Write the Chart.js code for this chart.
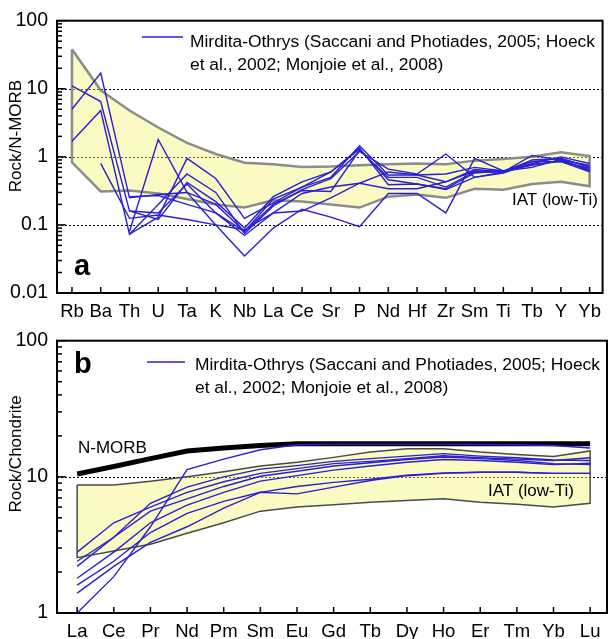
<!DOCTYPE html>
<html>
<head>
<meta charset="utf-8">
<script src="https://cdn.jsdelivr.net/npm/chart.js@4.4.0/dist/chart.umd.min.js"></script>
<style>
  html, body { margin: 0; padding: 0; background: #fff; }
  #wrap { position: relative; width: 609px; height: 639px; }
  .panel { position: absolute; left: 0; width: 609px; }
</style>
</head>
<body>
<div id="wrap">
  <div class="panel" style="top:0;height:320px"><canvas id="chartA" width="609" height="320"></canvas></div>
  <div class="panel" style="top:320px;height:319px"><canvas id="chartB" width="609" height="319"></canvas></div>
</div>
<script>
const FONT = '"Liberation Sans", Arial, Helvetica, sans-serif';
const BLUE = '#2a1fd2';

// ---- panel a: Rock / N-MORB ----
const elementsA = ['Rb', 'Ba', 'Th', 'U', 'Ta', 'K', 'Nb', 'La', 'Ce', 'Sr', 'P', 'Nd', 'Hf', 'Zr', 'Sm', 'Ti', 'Tb', 'Y', 'Yb'];
const yTicksA = [0.01, 0.1, 1, 10, 100];
const iatUpperA = [38, 9.5, 4.8, 2.7, 1.6, 1.1, 0.82, 0.78, 0.71, 0.72, 0.75, 0.78, 0.8, 0.78, 0.88, 0.93, 1.0, 1.17, 1.03];
const iatLowerA = [0.83, 0.31, 0.32, 0.29, 0.24, 0.2, 0.18, 0.23, 0.22, 0.2, 0.18, 0.26, 0.28, 0.25, 0.34, 0.33, 0.4, 0.43, 0.37];
const samplesA = [
    [5, 17, 0.25, 0.28, 0.3, 0.2, 0.08, 0.24, 0.36, 0.5, 1.45, 0.54, 0.54, 0.43, 0.62, 0.62, 0.85, 0.95, 0.7],
    [11, 6.5, 0.16, 0.12, 0.42, 0.22, 0.09, 0.26, 0.43, 0.6, 1.3, 0.46, 0.4, 0.33, 0.5, 0.6, 1.05, 0.9, 0.75],
    [1.7, 4.8, 0.073, 0.2, 0.56, 0.3, 0.075, 0.19, 0.33, 0.48, 1.2, 0.66, 0.56, 1.1, 0.5, 0.58, 0.8, 1.0, 0.8],
    [null, 0.8, 0.125, 0.14, 0.12, 0.1, 0.085, 0.15, 0.29, 0.36, 0.41, 0.6, 0.54, 0.56, 0.7, 0.62, 0.75, 0.88, 0.65],
    [null, null, 0.08, 1.8, 0.3, 0.1, 0.035, 0.09, 0.17, 0.13, 0.094, 0.29, 0.29, 0.15, 0.95, 0.62, 0.78, 0.85, 0.6],
    [null, null, 0.073, 0.13, 0.95, 0.48, 0.125, 0.21, 0.36, 0.6, 1.35, 0.39, 0.4, 0.34, 0.58, 0.62, 0.7, 0.92, 0.62],
    [null, null, 0.26, 0.27, 0.2, 0.15, 0.07, 0.15, 0.16, 0.25, 0.41, 0.34, 0.34, 0.43, 0.65, 0.6, 0.85, 0.85, 0.68],
    [null, null, 0.16, 0.15, 0.4, 0.15, 0.08, 0.2, 0.32, 0.31, 1.25, 0.5, 0.5, 0.36, 0.6, 0.6, 0.9, 0.95, 0.72]
];

// ---- panel b: Rock / Chondrite ----
const elementsB = ['La', 'Ce', 'Pr', 'Nd', 'Pm', 'Sm', 'Eu', 'Gd', 'Tb', 'Dy', 'Ho', 'Er', 'Tm', 'Yb', 'Lu'];
const yTicksB = [1, 10, 100];
const nMorbB = [10.5, 11.9, 13.6, 15.5, 16.3, 17.0, 17.5, 17.5, 17.5, 17.5, 17.5, 17.5, 17.5, 17.5, 17.5];
const iatUpperB = [8.7, 8.7, 9.3, 10.0, 10.9, 12.0, 12.8, 13.9, 15.2, 16.1, 16.1, 15.2, 14.6, 14.1, 15.5];
const iatLowerB = [2.55, 2.85, 3.2, 3.85, 4.6, 5.6, 6.0, 6.25, 6.5, 6.7, 6.9, 6.5, 6.3, 6.0, 6.4];
const samplesB = [
    [1.0, 1.85, 4.3, 11.3, 13.5, 15.8, 17.2, 17.4, 17.4, 17.4, 17.4, 17.3, 17.2, 17.0, 16.3],
    [2.8, 4.6, 6.0, 7.7, 9.2, 10.6, 11.5, 12.5, 13.0, 13.6, 14.3, 13.8, 13.5, 13.2, 13.8],
    [2.4, 3.6, 6.4, 8.4, 10.0, 11.4, 12.1, 13.0, 13.6, 14.2, 14.8, 14.2, 13.8, 13.3, 13.2],
    [2.2, 3.6, 5.6, 6.9, 8.5, 10.1, 11.0, 12.0, 12.7, 13.4, 14.0, 13.6, 13.2, 12.5, 12.3],
    [1.8, 2.8, 4.6, 6.2, 7.7, 9.3, 10.2, 11.2, 12.0, 12.8, 13.4, 13.2, 12.8, 12.3, 12.6],
    [1.6, 2.4, 3.9, 5.4, 6.6, 7.7, 7.5, 8.4, 9.4, 10.2, 10.6, 10.8, 10.8, 10.6, 10.6],
    [1.4, 2.2, 3.3, 4.3, 5.9, 7.7, 8.5, 9.1, 9.6, 10.3, 10.7, 10.8, 10.8, 10.6, 10.6]
];

const legendLines = ['Mirdita-Othrys (Saccani and Photiades, 2005; Hoeck', 'et al., 2002; Monjoie et al., 2008)'];

function toPoints(values) {
    return values.map((v, i) => ({ x: i, y: v }));
}

// closed outline: upper left->right, lower right->left, back to start
function fieldPolygon(upper, lower) {
    const pts = toPoints(upper);
    for (let i = lower.length - 1; i >= 0; i--) pts.push({ x: i, y: lower[i] });
    pts.push({ x: 0, y: upper[0] });
    return pts;
}

// frame, inward ticks, dotted grid and the annotations
const decorPlugin = {
    id: 'decor',
    beforeDatasetsDraw(chart, args, opts) {
        const { ctx, chartArea } = chart;
        const y = chart.scales.y;
        ctx.save();
        ctx.strokeStyle = '#000';
        ctx.lineWidth = 1;
        ctx.setLineDash([2, 2]);
        opts.grid.forEach(v => {
            const py = Math.round(y.getPixelForValue(v)) + 0.5;
            ctx.beginPath();
            ctx.moveTo(chartArea.left, py);
            ctx.lineTo(chartArea.right, py);
            ctx.stroke();
        });
        ctx.restore();
    },
    afterDraw(chart, args, opts) {
        const { ctx, chartArea } = chart;
        const x = chart.scales.x, y = chart.scales.y;
        ctx.save();
        ctx.strokeStyle = '#000';
        ctx.lineWidth = 2;
        ctx.strokeRect(chartArea.left, chartArea.top, chartArea.right - chartArea.left, chartArea.bottom - chartArea.top);

        // y ticks, major and minor, pointing inward
        ctx.lineWidth = 1.5;
        for (let d = y.min; d < y.max * 1.001; d *= 10) {
            for (let k = 1; k <= 9; k++) {
                const v = d * k;
                if (v > y.max * 1.001) break;
                const py = y.getPixelForValue(v);
                ctx.beginPath();
                ctx.moveTo(chartArea.left, py);
                ctx.lineTo(chartArea.left + (k === 1 ? 9 : 5), py);
                ctx.stroke();
            }
        }
        // x ticks
        x.ticks.forEach(t => {
            const px = x.getPixelForValue(t.value);
            ctx.beginPath();
            ctx.moveTo(px, chartArea.bottom);
            ctx.lineTo(px, chartArea.bottom - 6);
            ctx.stroke();
        });

        ctx.fillStyle = '#000';
        // y title
        ctx.save();
        ctx.translate(opts.yTitlePos[0], opts.yTitlePos[1]);
        ctx.rotate(-Math.PI / 2);
        ctx.font = '17px ' + FONT;
        ctx.textAlign = 'center';
        ctx.textBaseline = 'middle';
        ctx.fillText(opts.yTitle, 0, 0);
        ctx.restore();

        // panel letter
        ctx.font = 'bold 29px ' + FONT;
        ctx.textAlign = 'left';
        ctx.textBaseline = 'alphabetic';
        ctx.fillText(opts.letter, opts.letterPos[0], opts.letterPos[1]);

        // field labels
        ctx.font = '17px ' + FONT;
        opts.labels.forEach(l => ctx.fillText(l.text, l.x, l.y));

        // legend
        const lg = opts.legend;
        ctx.strokeStyle = BLUE;
        ctx.lineWidth = 1.4;
        ctx.beginPath();
        ctx.moveTo(lg.x1, lg.ly);
        ctx.lineTo(lg.x2, lg.ly);
        ctx.stroke();
        ctx.font = '17.4px ' + FONT;
        legendLines.forEach((t, i) => ctx.fillText(t, lg.tx, lg.ty + i * 23.5));
        ctx.restore();
    }
};

function makeChart(canvasId, cfg) {
    // higher order is drawn first (underneath)
    const datasets = [{
        data: fieldPolygon(cfg.upper, cfg.lower),
        borderColor: cfg.fieldBorder,
        borderWidth: cfg.fieldBorderWidth,
        backgroundColor: 'rgba(242, 242, 110, 0.42)',
        fill: 'shape',
        pointRadius: 0,
        tension: 0,
        order: 3
    }];
    if (cfg.nmorb) {
        datasets.push({
            data: toPoints(cfg.nmorb),
            borderColor: '#000',
            borderWidth: 5,
            fill: false,
            pointRadius: 0,
            tension: 0,
            order: 2
        });
    }
    cfg.samples.forEach(s => datasets.push({
        data: toPoints(s),
        borderColor: BLUE,
        borderWidth: 1.4,
        fill: false,
        pointRadius: 0,
        tension: 0,
        order: 1
    }));

    return new Chart(document.getElementById(canvasId), {
        type: 'line',
        data: { datasets },
        options: {
            responsive: false,
            animation: false,
            layout: { padding: { top: 16, right: 2, left: 0, bottom: 0 } },
            plugins: {
                legend: { display: false },
                tooltip: { enabled: false },
                decor: cfg.decor
            },
            scales: {
                x: {
                    type: 'linear',
                    min: cfg.xMin,
                    max: cfg.xMax,
                    afterBuildTicks: s => { s.ticks = cfg.labels.map((_, i) => ({ value: i })); },
                    afterFit: s => { s.height = cfg.xHeight; },
                    grid: { display: false, drawTicks: false },
                    border: { display: false },
                    ticks: {
                        autoSkip: false,
                        maxRotation: 0,
                        padding: 8,
                        color: '#000',
                        font: { family: FONT, size: 18.5 },
                        callback: v => cfg.labels[v]
                    }
                },
                y: {
                    type: 'logarithmic',
                    min: cfg.yTicks[0],
                    max: cfg.yTicks[cfg.yTicks.length - 1],
                    afterBuildTicks: s => { s.ticks = cfg.yTicks.map(v => ({ value: v })); },
                    afterFit: s => { s.width = 57; },
                    grid: { display: false, drawTicks: false },
                    border: { display: false },
                    ticks: {
                        padding: 9,
                        color: '#000',
                        font: { family: FONT, size: 19.5 },
                        callback: v => String(v)
                    }
                }
            }
        },
        plugins: [decorPlugin]
    });
}

makeChart('chartA', {
    labels: elementsA,
    yTicks: yTicksA,
    upper: iatUpperA,
    lower: iatLowerA,
    samples: samplesA,
    fieldBorder: '#8c8c8c',
    fieldBorderWidth: 2.5,
    xMin: -0.52,
    xMax: 18.45,
    xHeight: 27,
    decor: {
        grid: [0.1, 1, 10],
        yTitle: 'Rock/N-MORB',
        yTitlePos: [16, 136],
        letter: 'a',
        letterPos: [74, 275],
        labels: [{ text: 'IAT (low-Ti)', x: 512, y: 205 }],
        legend: { x1: 142, x2: 183, ly: 37, tx: 190, ty: 46.5 }
    }
});

makeChart('chartB', {
    labels: elementsB,
    yTicks: yTicksB,
    upper: iatUpperB,
    lower: iatLowerB,
    samples: samplesB,
    nmorb: nMorbB,
    fieldBorder: '#4a4a4a',
    fieldBorderWidth: 1.5,
    xMin: -0.55,
    xMax: 14.46,
    xHeight: 26,
    decor: {
        grid: [10],
        yTitle: 'Rock/Chondrite',
        yTitlePos: [16, 134],
        letter: 'b',
        letterPos: [74, 53],
        labels: [
            { text: 'IAT (low-Ti)', x: 488, y: 176 },
            { text: 'N-MORB', x: 78, y: 133 }
        ],
        legend: { x1: 147, x2: 185, ly: 42, tx: 195, ty: 49.5 }
    }
});
</script>
</body>
</html>
